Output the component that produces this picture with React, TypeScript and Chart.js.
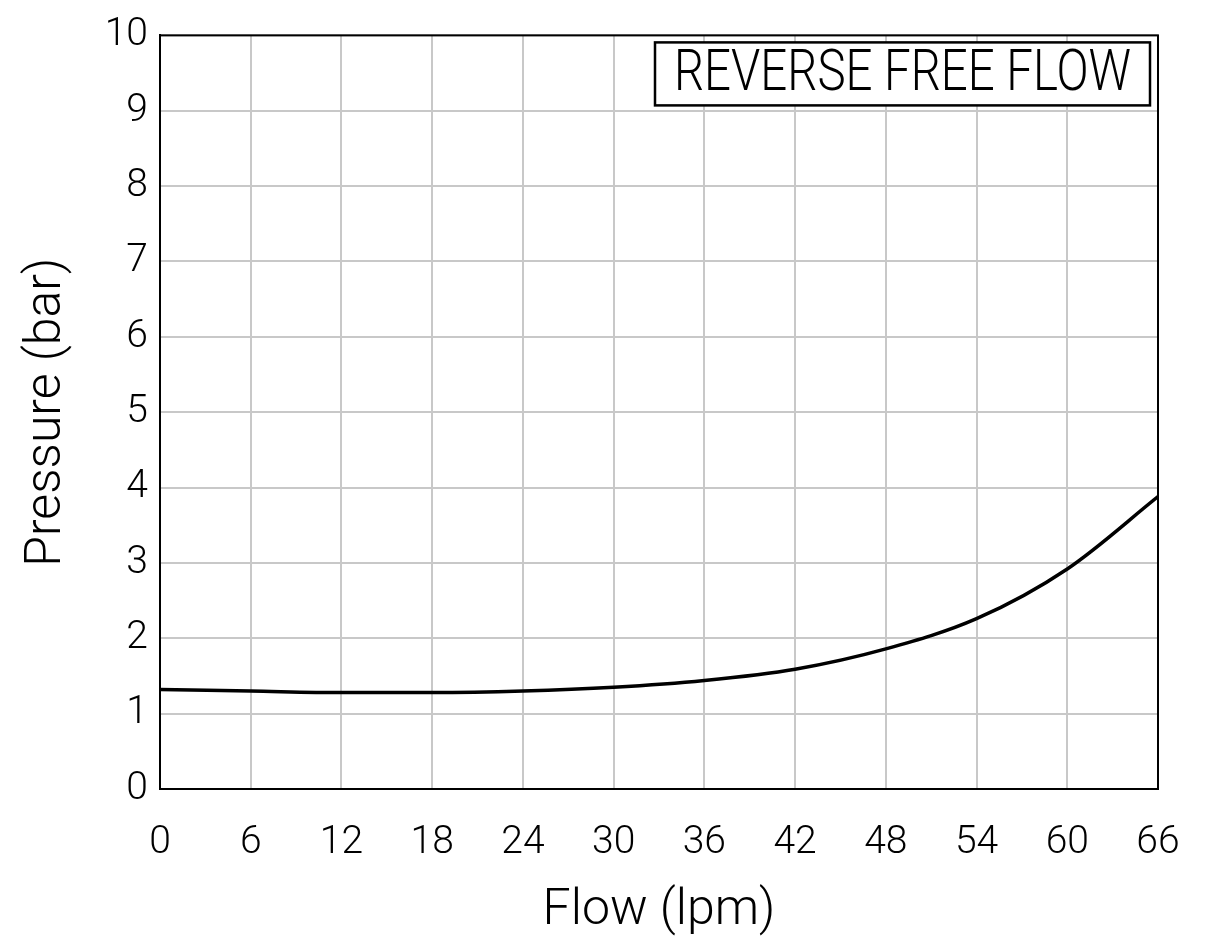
import React, { useEffect, useRef } from "react";
import { Chart, registerables } from "chart.js";

Chart.register(...registerables);

const flowLpm = [0, 6, 12, 18, 24, 30, 36, 42, 48, 54, 60, 66];
const pressureBar = [1.32, 1.30, 1.28, 1.28, 1.30, 1.35, 1.44, 1.59, 1.86, 2.26, 2.92, 3.88];
const legendText = "REVERSE FREE FLOW";
const xTitle = "Flow (lpm)";
const yTitle = "Pressure (bar)";

const FONT = "Roboto";

const framePlugin = {
  id: "frameAndBox",
  afterDraw(chart: any) {
    const { ctx, chartArea } = chart;
    const { left, right, top, bottom } = chartArea;
    ctx.save();
    ctx.strokeStyle = "#000";
    ctx.lineWidth = 2;
    ctx.strokeRect(left, top, right - left, bottom - top);
    // legend box
    const bx = right - 503;
    const by = top + 7;
    const bw = 495;
    const bh = 63;
    ctx.fillStyle = "#fff";
    ctx.fillRect(bx, by, bw, bh);
    ctx.lineWidth = 2.5;
    ctx.strokeRect(bx, by, bw, bh);
    ctx.font = `300 58px ${FONT}`;
    ctx.fillStyle = "#000";
    ctx.textBaseline = "middle";
    ctx.textAlign = "left";
    const target = 457;
    const w = ctx.measureText(legendText).width;
    const sx = target / w;
    ctx.translate(bx + 19, by + bh / 2 + 2);
    ctx.scale(sx, 1);
    ctx.fillText(legendText, 0, 0);
    ctx.restore();
  },
};

export default function App() {
  const ref = useRef<HTMLCanvasElement | null>(null);
  useEffect(() => {
    if (!ref.current) return;
    const chart = new Chart(ref.current, {
      type: "line",
      data: {
        datasets: [
          {
            data: flowLpm.map((x, i) => ({ x, y: pressureBar[i] })),
            borderColor: "#000",
            borderWidth: 3.5,
            pointRadius: 0,
            tension: 0.4,
            cubicInterpolationMode: "monotone",
            fill: false,
          },
        ],
      },
      options: {
        animation: false,
        responsive: false,
        maintainAspectRatio: false,
        layout: { padding: { top: 33, right: 57, left: 0, bottom: 0 } },
        plugins: { legend: { display: false }, tooltip: { enabled: false } },
        scales: {
          x: {
            type: "linear",
            min: 0,
            max: 66,
            afterFit(scale: any) {
              scale.height = 150;
            },
            ticks: {
              stepSize: 6,
              color: "#000",
              padding: 31,
              font: { family: FONT, size: 39, weight: 300 },
              maxRotation: 0,
            },
            grid: { color: "#c8c8c8", lineWidth: 2, drawTicks: false },
            border: { color: "#000", width: 2 },
            title: {
              display: true,
              text: xTitle,
              color: "#000",
              font: { family: FONT, size: 50, weight: 300, lineHeight: 1.1 },
              padding: { top: 0, bottom: 0 },
            },
          },
          y: {
            min: 0,
            max: 10,
            afterFit(scale: any) {
              scale.width = 160;
            },
            ticks: {
              stepSize: 1,
              color: "#000",
              padding: 12,
              font: { family: FONT, size: 39, weight: 300 },
            },
            grid: { color: "#c8c8c8", lineWidth: 2, drawTicks: false },
            border: { color: "#000", width: 2 },
            title: {
              display: true,
              text: yTitle,
              color: "#000",
              font: { family: FONT, size: 50, weight: 300, lineHeight: 1.2 },
              padding: { top: 17, bottom: 0 },
            },
          },
        },
      },
      plugins: [framePlugin],
    } as any);
    return () => chart.destroy();
  }, []);
  return (
    <div style={{ position: "absolute", left: 0, top: 0, width: 1215, height: 939, background: "#fff" }}>
      <canvas ref={ref} width={1215} height={939} style={{ display: "block", width: 1215, height: 939 }} />
    </div>
  );
}
